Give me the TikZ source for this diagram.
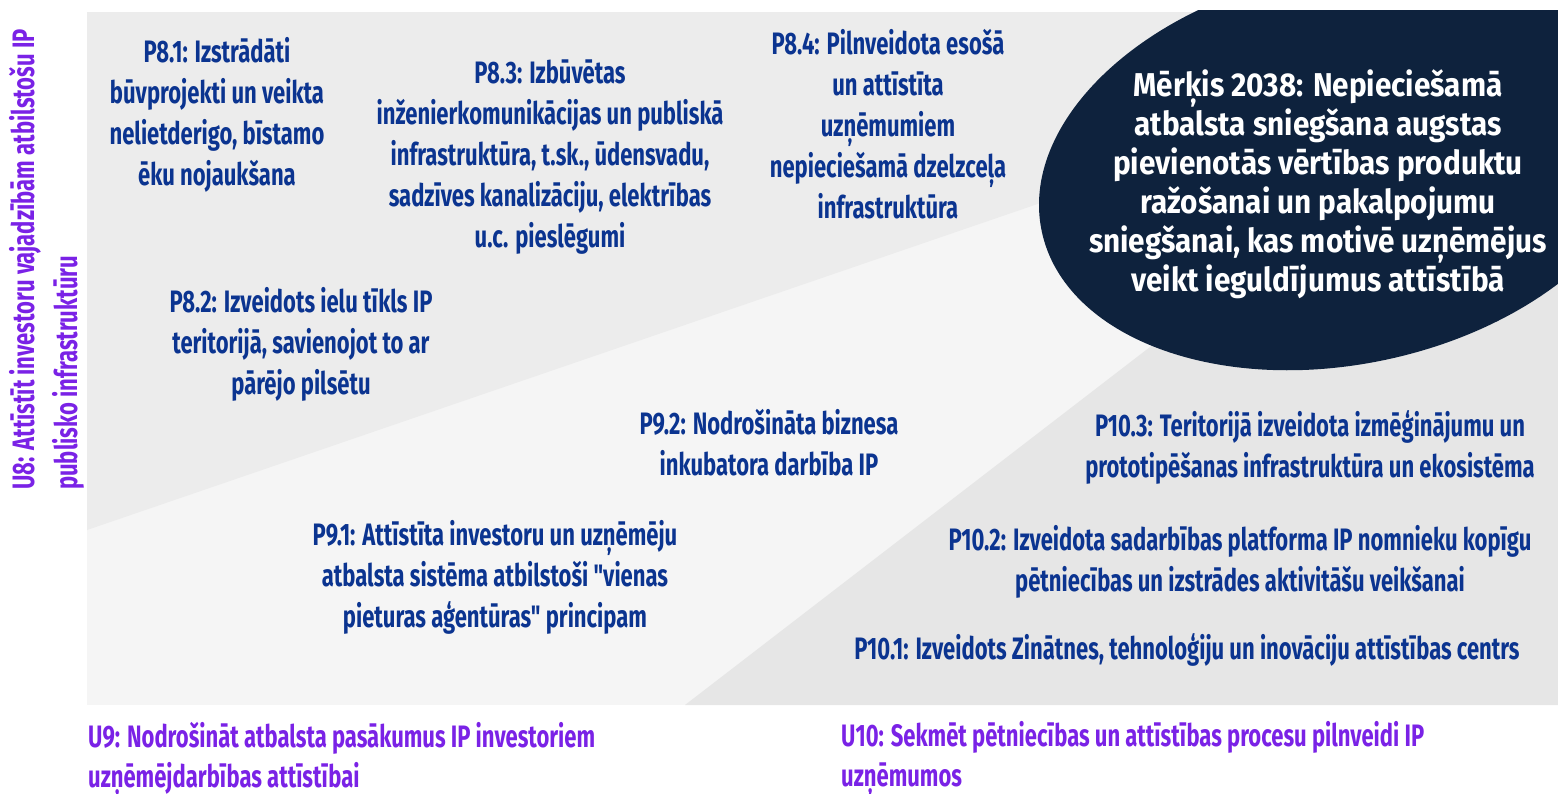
\documentclass[tikz,border=0pt]{standalone}
\usepackage{fontspec}
\newfontfamily\condfont[FakeStretch=0.71]{Fira Sans}
\newfontfamily\goalfont[FakeStretch=0.9]{Fira Sans}
\usetikzlibrary{positioning}

\definecolor{bgmid}{HTML}{F5F5F5}
\definecolor{bgtop}{HTML}{ECECEC}
\definecolor{bgright}{HTML}{E6E6E6}
\definecolor{goalnavy}{HTML}{0E223D}
\definecolor{taskblue}{HTML}{0B3490}
\definecolor{aimviolet}{HTML}{7A22E6}

\tikzset{
  task/.style={align=center, inner sep=0pt, text=taskblue,
    font=\condfont\bfseries\fontsize{31}{41}\selectfont},
  aim/.style={align=left, inner sep=0pt, text=aimviolet, anchor=west,
    font=\condfont\bfseries\fontsize{31}{40}\selectfont},
  goaltext/.style={align=center, inner sep=0pt, text=white,
    font=\goalfont\bfseries\fontsize{33}{39}\selectfont}
}

\begin{document}
\begin{tikzpicture}[x=1pt, y=-1pt]
		\useasboundingbox (0,0) rectangle (1558,793);

		% Background zones
		\fill[bgmid] (87,12) rectangle (1558,705);
		\fill[bgtop] (87,12) -- (1300,12) -- (1300,114) -- (87,530) -- cycle;
		\fill[bgright] (685,705) -- (1276,250) -- (1558,250) -- (1558,705) -- cycle;

		% Goal ellipse, cut at the top
		\begin{scope}
			\clip (0,10) rectangle (1558,793);
			\fill[goalnavy, rotate around={12:(1345,167)}] (1345,167) ellipse [x radius=310, y radius=197];
		\end{scope}
		\node[goaltext] (goal) at (1318,184) {Mērķis 2038: Nepieciešamā\\atbalsta sniegšana augstas\\pievienotās vērtības produktu\\ražošanai un pakalpojumu\\sniegšanai, kas motivē uzņēmējus\\veikt ieguldījumus attīstībā};

		% U8 tasks
		\node[task] (p81) at (217,115) {P8.1: Izstrādāti\\būvprojekti un veikta\\nelietderigo, bīstamo\\ēku nojaukšana};
		\node[task] (p83) at (550,157) {P8.3: Izbūvētas\\inženierkomunikācijas un publiskā\\infrastruktūra, t.sk., ūdensvadu,\\sadzīves kanalizāciju, elektrības\\u.c. pieslēgumi};
		\node[task] (p84) at (888,124) {P8.4: Pilnveidota esošā\\un attīstīta\\uzņēmumiem\\nepieciešamā dzelzceļa\\infrastruktūra};
		\node[task] (p82) at (301,344) {P8.2: Izveidots ielu tīkls IP\\teritorijā, savienojot to ar\\pārējo pilsētu};

		% U9 tasks
		\node[task] (p92) at (769,443) {P9.2: Nodrošināta biznesa\\inkubatora darbība IP};
		\node[task] (p91) at (495,577) {P9.1: Attīstīta investoru un uzņēmēju\\atbalsta sistēma atbilstoši "vienas\\pieturas aģentūras" principam};

		% U10 tasks
		\node[task] (p103) at (1310,448) {P10.3: Teritorijā izveidota izmēģinājumu un\\prototipēšanas infrastruktūra un ekosistēma};
		\node[task] (p102) at (1240,562) {P10.2: Izveidota sadarbības platforma IP nomnieku kopīgu\\pētniecības un izstrādes aktivitāšu veikšanai};
		\node[task] (p101) at (1187,650) {P10.1: Izveidots Zinātnes, tehnoloģiju un inovāciju attīstības centrs};

		% Aims
		\node[aim, rotate=90, font=\condfont\bfseries\fontsize{31}{43}\selectfont] (u8) at (46.5,490) {U8: Attīstīt investoru vajadzībām atbilstošu IP\\publisko infrastruktūru};
		\node[aim] (u9) at (88,760) {U9: Nodrošināt atbalsta pasākumus IP investoriem\\uzņēmējdarbības attīstībai};
		\node[aim] (u10) at (841,759) {U10: Sekmēt pētniecības un attīstības procesu pilnveidi IP\\uzņēmumos};
	\end{tikzpicture}
\end{document}
